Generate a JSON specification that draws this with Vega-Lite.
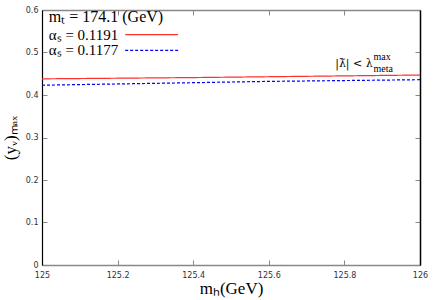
{
  "$schema": "https://vega.github.io/schema/vega-lite/v6.json",
  "width": 378,
  "height": 255,
  "autosize": {"type": "none"},
  "padding": {"left": 42, "top": 10, "right": 16, "bottom": 35},
  "background": "white",
  "config": {
    "view": {"stroke": null},
    "axis": {
      "labelFont": "DejaVu Sans",
      "labelFontSize": 8,
      "labelColor": "#333",
      "labelFlush": false,
      "labelOverlap": false,
      "titleFont": "Liberation Serif",
      "titleFontSize": 17,
      "titleFontWeight": "normal",
      "titleColor": "#000",
      "grid": false,
      "tickColor": "#888",
      "tickSize": -5,
      "labelPadding": 11
    }
  },
  "datasets": {
    "curves": [
      {"mh": 125.0, "y": 0.438, "alpha": "0.1191"},
      {"mh": 125.2, "y": 0.4395, "alpha": "0.1191"},
      {"mh": 125.4, "y": 0.441, "alpha": "0.1191"},
      {"mh": 125.6, "y": 0.443, "alpha": "0.1191"},
      {"mh": 125.8, "y": 0.445, "alpha": "0.1191"},
      {"mh": 126.0, "y": 0.447, "alpha": "0.1191"},
      {"mh": 125.0, "y": 0.423, "alpha": "0.1177"},
      {"mh": 125.2, "y": 0.426, "alpha": "0.1177"},
      {"mh": 125.4, "y": 0.429, "alpha": "0.1177"},
      {"mh": 125.6, "y": 0.432, "alpha": "0.1177"},
      {"mh": 125.8, "y": 0.434, "alpha": "0.1177"},
      {"mh": 126.0, "y": 0.436, "alpha": "0.1177"}
    ],
    "legend": [
      {"x1": 125.22, "x2": 125.36, "y": 0.542, "alpha": "0.1191", "label": "αₛ = 0.1191"},
      {"x1": 125.22, "x2": 125.36, "y": 0.505, "alpha": "0.1177", "label": "αₛ = 0.1177"}
    ]
  },
  "layer": [
    {
      "data": {"name": "curves"},
      "mark": {"type": "line", "strokeWidth": 1.2},
      "encoding": {
        "x": {
          "field": "mh", "type": "quantitative",
          "scale": {"domain": [125, 126], "nice": false, "zero": false},
          "axis": {
            "orient": "bottom", "title": "mₕ(GeV)", "values": [125, 125.2, 125.4, 125.6, 125.8, 126],
            "format": "~g", "domainColor": "#888", "domainWidth": 1.5, "titlePadding": 1
          }
        },
        "y": {
          "field": "y", "type": "quantitative",
          "scale": {"domain": [0, 0.6], "nice": false},
          "axis": {
            "orient": "left", "title": "(yᵥ)ₘₐₓ", "values": [0, 0.1, 0.2, 0.3, 0.4, 0.5, 0.6],
            "format": ".1~f", "domainColor": "#000", "domainWidth": 1.2, "titlePadding": 6, "labelPadding": 9
          }
        },
        "color": {
          "field": "alpha", "type": "nominal",
          "scale": {"domain": ["0.1191", "0.1177"], "range": ["#ff3030", "#0000ff"]},
          "legend": null
        },
        "strokeDash": {
          "field": "alpha", "type": "nominal",
          "scale": {"domain": ["0.1191", "0.1177"], "range": [[1, 0], [3, 2]]},
          "legend": null
        }
      }
    },
    {
      "data": {"name": "curves"},
      "mark": {"type": "point", "opacity": 0},
      "encoding": {
        "x": {
          "field": "mh", "type": "quantitative",
          "axis": {"orient": "top", "title": null, "labels": false, "values": [125, 125.2, 125.4, 125.6, 125.8, 126], "domainColor": "#888", "domainWidth": 1.5}
        },
        "y": {
          "field": "y", "type": "quantitative",
          "axis": {"orient": "right", "title": null, "labels": false, "values": [0, 0.1, 0.2, 0.3, 0.4, 0.5, 0.6], "domainColor": "#000", "domainWidth": 1.5}
        }
      }
    },
    {
      "data": {"name": "legend"},
      "mark": {"type": "rule", "strokeWidth": 1.2},
      "encoding": {
        "x": {"field": "x1", "type": "quantitative", "axis": null},
        "x2": {"field": "x2"},
        "y": {"field": "y", "type": "quantitative", "axis": null},
        "color": {"field": "alpha", "type": "nominal", "legend": null},
        "strokeDash": {"field": "alpha", "type": "nominal", "legend": null}
      }
    },
    {
      "data": {"name": "legend"},
      "mark": {"type": "text", "align": "left", "baseline": "middle", "font": "Liberation Serif", "fontSize": 15, "color": "#000"},
      "encoding": {
        "x": {"datum": 125.018, "type": "quantitative", "axis": null},
        "y": {"field": "y", "type": "quantitative", "axis": null},
        "text": {"field": "label"}
      }
    },
    {
      "data": {"values": [{"x": 125.018, "y": 0.583, "t": "mₜ = 174.1 (GeV)"}]},
      "mark": {"type": "text", "align": "left", "baseline": "middle", "font": "Liberation Serif", "fontSize": 16, "color": "#000"},
      "encoding": {
        "x": {"field": "x", "type": "quantitative", "axis": null},
        "y": {"field": "y", "type": "quantitative", "axis": null},
        "text": {"field": "t"}
      }
    },
    {
      "data": {"values": [{"x": 125.875, "y": 0.474, "t": "|λ̃| < λ"}]},
      "mark": {"type": "text", "align": "right", "baseline": "middle", "font": "DejaVu Serif", "fontSize": 11, "color": "#000"},
      "encoding": {
        "x": {"field": "x", "type": "quantitative", "axis": null},
        "y": {"field": "y", "type": "quantitative", "axis": null},
        "text": {"field": "t"}
      }
    },
    {
      "data": {"values": [{"x": 125.877, "y": 0.489, "t": "max"}, {"x": 125.877, "y": 0.461, "t": "meta"}]},
      "mark": {"type": "text", "align": "left", "baseline": "middle", "font": "Liberation Serif", "fontSize": 10, "color": "#000"},
      "encoding": {
        "x": {"field": "x", "type": "quantitative", "axis": null},
        "y": {"field": "y", "type": "quantitative", "axis": null},
        "text": {"field": "t"}
      }
    }
  ],
  "resolve": {"axis": {"x": "independent", "y": "independent"}}
}
